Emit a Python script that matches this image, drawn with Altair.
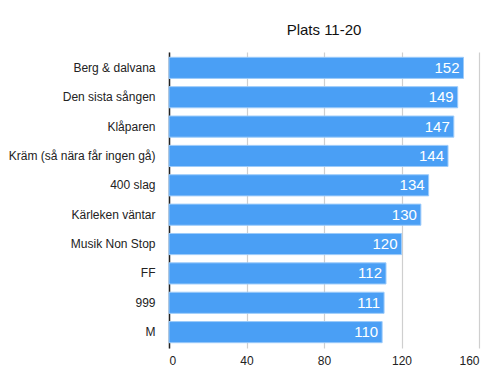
import altair as alt
import pandas as pd

songs = ["Berg & dalvana", "Den sista sången", "Klåparen", "Kräm (så nära får ingen gå)",
         "400 slag", "Kärleken väntar", "Musik Non Stop", "FF", "999", "M"]
values = [152, 149, 147, 144, 134, 130, 120, 112, 111, 110]
ticks = [0, 40, 80, 120, 160]

df = pd.DataFrame({"song": songs, "value": values})
FONT = "Liberation Sans"

y = alt.Y("song:N", sort=songs, title=None,
          scale=alt.Scale(paddingInner=0.28, paddingOuter=0.18),
          axis=alt.Axis(labelFont=FONT, labelFontSize=12, labelColor="#222",
                        labelPadding=14, ticks=False, domain=True,
                        domainColor="#222", domainWidth=1.5, grid=False))
x = alt.X("value:Q", title=None,
          scale=alt.Scale(domain=[0, 160], nice=False),
          axis=alt.Axis(values=ticks, labelFont=FONT, labelFontSize=12, labelColor="#222",
                        labelPadding=7, ticks=False, domain=False,
                        grid=True, gridColor="#cfcfcf", gridWidth=1.2))

bars = alt.Chart(df).mark_bar(color="#4a9ff5", stroke="#9ccbfa", strokeWidth=1).encode(y=y, x=x)
labels = alt.Chart(df).mark_text(align="right", dx=-4, font=FONT, fontSize=15,
                                 color="white").encode(y=alt.Y("song:N", sort=songs),
                                                       x="value:Q", text="value:Q")

chart = (bars + labels).properties(
    width=310, height=296,
    title=alt.Title("Plats 11-20", font=FONT, fontSize=15, fontWeight="normal",
                    color="#111", anchor="middle", offset=14),
    autosize=alt.AutoSizeParams(type="none"),
    padding={"left": 161, "top": 44, "right": 10, "bottom": 30},
).configure_view(stroke=None)

chart.save("out.html", embed_options={"renderer": "svg", "actions": False})
